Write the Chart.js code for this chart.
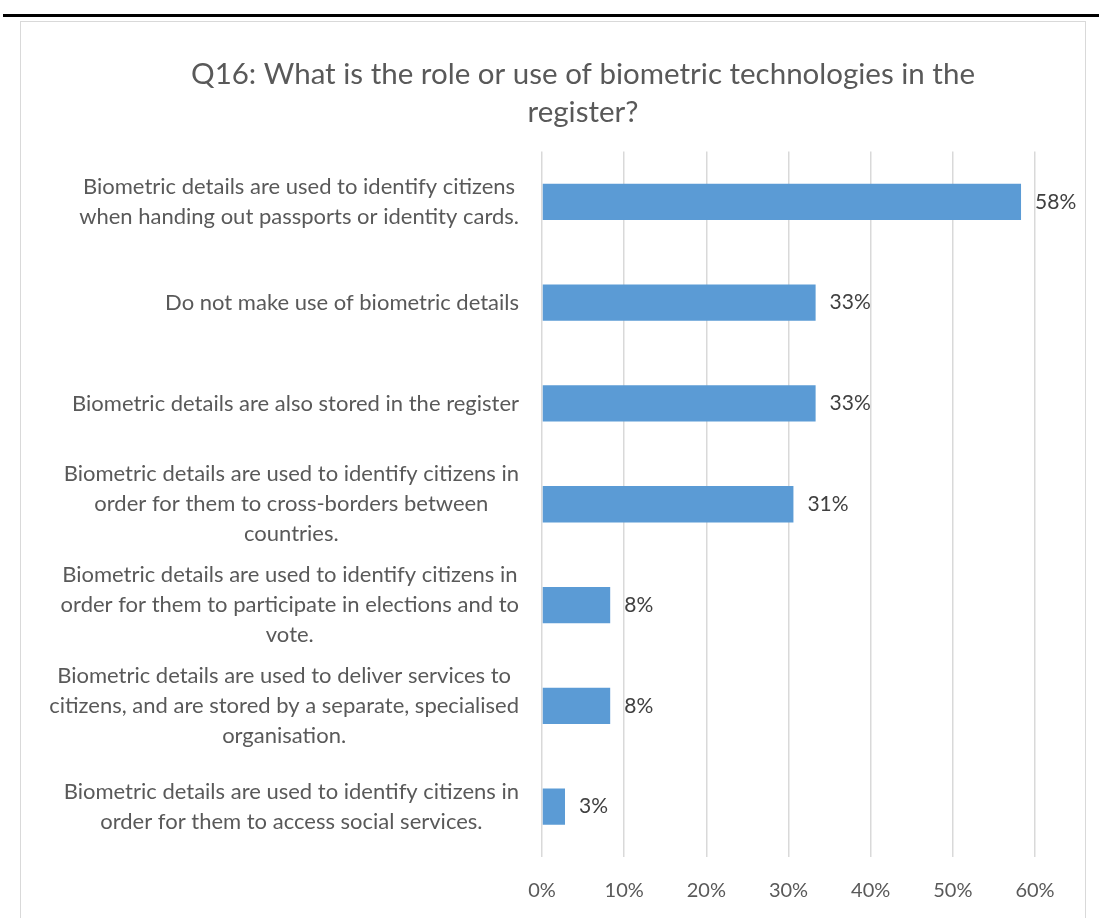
<!DOCTYPE html>
<html>
<head>
<meta charset="utf-8">
<script src="https://cdn.jsdelivr.net/npm/chart.js@4.4.1/dist/chart.umd.min.js"></script>
<style>
  html, body { margin: 0; padding: 0; background: #fff; overflow: hidden; }
  #rule { position: absolute; left: 3px; top: 14px; width: 1096px; height: 3px; background: #000; }
  #frame { position: absolute; left: 20px; top: 21px; width: 1064px; height: 940px; border: 1.5px solid #d9d9d9; }
  #biometricChart { position: absolute; left: 0; top: 0; }
</style>
</head>
<body>
<div id="rule"></div>
<div id="frame"></div>
<canvas id="biometricChart" width="1099" height="918"></canvas>
<script>
const titleLines = [
    'Q16: What is the role or use of biometric technologies in the',
    'register?'
];
const categories = [
    ['Biometric details are used to identify citizens', 'when handing out passports or identity cards.'],
    ['Do not make use of biometric details'],
    ['Biometric details are also stored in the register'],
    ['Biometric details are used to identify citizens in', 'order for them to cross-borders between', 'countries.'],
    ['Biometric details are used to identify citizens in', 'order for them to participate in elections and to', 'vote.'],
    ['Biometric details are used to deliver services to', 'citizens, and are stored by a separate, specialised', 'organisation.'],
    ['Biometric details are used to identify citizens in', 'order for them to access social services.']
];
// percent of respondents
const values = [58.3, 33.3, 33.3, 30.6, 8.3, 8.3, 2.8];
const tickValues = [0, 10, 20, 30, 40, 50, 60];

const FONT = 'Lato, "Open Sans", sans-serif';
const textGrey = '#595959';

// Excel-style category labels: block right aligned, lines centred within the block
const blockLabels = {
    id: 'blockLabels',
    afterDraw(chart) {
        const ctx = chart.ctx;
        const yScale = chart.scales.y;
        const right = chart.chartArea.left - 23;
        const lineH = 30;
        ctx.save();
        ctx.font = '22px ' + FONT;
        ctx.fillStyle = textGrey;
        ctx.textAlign = 'center';
        ctx.textBaseline = 'middle';
        categories.forEach((lines, i) => {
            const y = yScale.getPixelForTick(i);
            const w = Math.max(...lines.map(l => ctx.measureText(l).width));
            const cx = right - w / 2;
            lines.forEach((l, j) => {
                ctx.fillText(l, cx, y + (j - (lines.length - 1) / 2) * lineH);
            });
        });
        ctx.restore();
    }
};

const valueLabels = {
    id: 'valueLabels',
    afterDatasetsDraw(chart) {
        const ctx = chart.ctx;
        const meta = chart.getDatasetMeta(0);
        ctx.save();
        ctx.font = '21px ' + FONT;
        ctx.fillStyle = '#404040';
        ctx.textAlign = 'left';
        ctx.textBaseline = 'middle';
        meta.data.forEach((bar, i) => {
            ctx.fillText(Math.round(values[i]) + '%', bar.x + 14, bar.y);
        });
        ctx.restore();
    }
};

const ctx = document.getElementById('biometricChart').getContext('2d');
const biometricChart = new Chart(ctx, {
    type: 'bar',
    data: {
        labels: categories,
        datasets: [{
            label: 'Respondents',
            data: values,
            backgroundColor: '#5b9bd5',
            barPercentage: 0.36,
            categoryPercentage: 1
        }]
    },
    options: {
        indexAxis: 'y',
        responsive: false,
        animation: false,
        devicePixelRatio: 1,
        layout: {
            padding: { left: 131, right: 64, top: 56, bottom: 15 }
        },
        scales: {
            x: {
                min: 0,
                max: 60,
                afterBuildTicks: (scale) => { scale.ticks = tickValues.map(v => ({ value: v })); },
                afterFit: (scale) => { scale.height = 46; },
                grid: { color: '#d9d9d9', lineWidth: 1.5, drawTicks: false },
                border: { display: false },
                ticks: {
                    padding: 22,
                    color: textGrey,
                    font: { family: FONT, size: 20 },
                    callback: (v) => v + '%'
                }
            },
            y: {
                grid: { display: false },
                border: { display: false },
                ticks: { display: false },
                afterFit: (scale) => { scale.width = 411; }
            }
        },
        plugins: {
            legend: { display: false },
            tooltip: { enabled: false },
            title: {
                display: true,
                text: titleLines,
                color: textGrey,
                font: { family: FONT, size: 29.5, weight: 'normal', lineHeight: 1.28 },
                padding: { top: 0, bottom: 20 }
            }
        }
    },
    plugins: [blockLabels, valueLabels]
});
</script>
</body>
</html>
